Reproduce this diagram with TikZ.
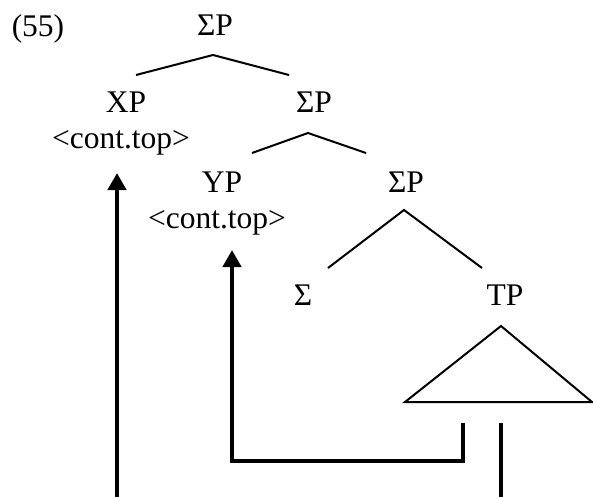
\documentclass[tikz,border=0pt]{standalone}
\usepackage{fontspec}
\setmainfont{Liberation Serif}
\usetikzlibrary{arrows.meta}
\begin{document}
\begin{tikzpicture}[x=1pt,y=-1pt,
  lab/.style={inner sep=0pt,anchor=base,font=\fontsize{31.5}{34}\selectfont},
  branch/.style={line width=2pt},
  move/.style={line width=4.5pt,line cap=butt,line join=miter},
  movetip/.style={move,-{Triangle[width=18pt,length=17pt]}}]
\useasboundingbox (0,0) rectangle (593,497);
% labels
\node[lab] (num) at (38,37) {(55)};
\node[lab] (sp1) at (215,36) {ΣP};
\node[lab] (xp) at (126,113) {XP};
\node[lab] (xpf) at (121,149) {<cont.top>};
\node[lab] (sp2) at (314,113) {ΣP};
\node[lab] (yp) at (222,192) {YP};
\node[lab] (ypf) at (217,228) {<cont.top>};
\node[lab] (sp3) at (406,192) {ΣP};
\node[lab] (sig) at (303,305) {Σ};
\node[lab] (tp) at (505,305) {TP};
% branch points
\coordinate (b1) at (213,55); \coordinate (b1l) at (136,75); \coordinate (b1r) at (289,75);
\coordinate (b2) at (308,133); \coordinate (b2l) at (252,153); \coordinate (b2r) at (366,153);
\coordinate (b3) at (404,210); \coordinate (b3l) at (328,268); \coordinate (b3r) at (482,268);
\coordinate (t0) at (501,326); \coordinate (tl) at (405,402); \coordinate (tr) at (592,402);
\draw[branch] (b1l) -- (b1) -- (b1r);
\draw[branch] (b2l) -- (b2) -- (b2r);
\draw[branch] (b3l) -- (b3) -- (b3r);
\draw[branch,line join=miter] (t0) -- (tl) -- (tr) -- cycle;
% movement arrows
\coordinate (m1s) at (117,497); \coordinate (m1e) at (117,173);
\coordinate (m2s) at (463,423); \coordinate (m2a) at (463,461);
\coordinate (m2b) at (232,461); \coordinate (m2e) at (232,250);
\coordinate (m3s) at (501,423); \coordinate (m3e) at (501,497);
\draw[movetip] (m1s) -- (m1e);
\draw[movetip] (m2s) -- (m2a) -- (m2b) -- (m2e);
\draw[move] (m3s) -- (m3e);
\end{tikzpicture}
\end{document}
